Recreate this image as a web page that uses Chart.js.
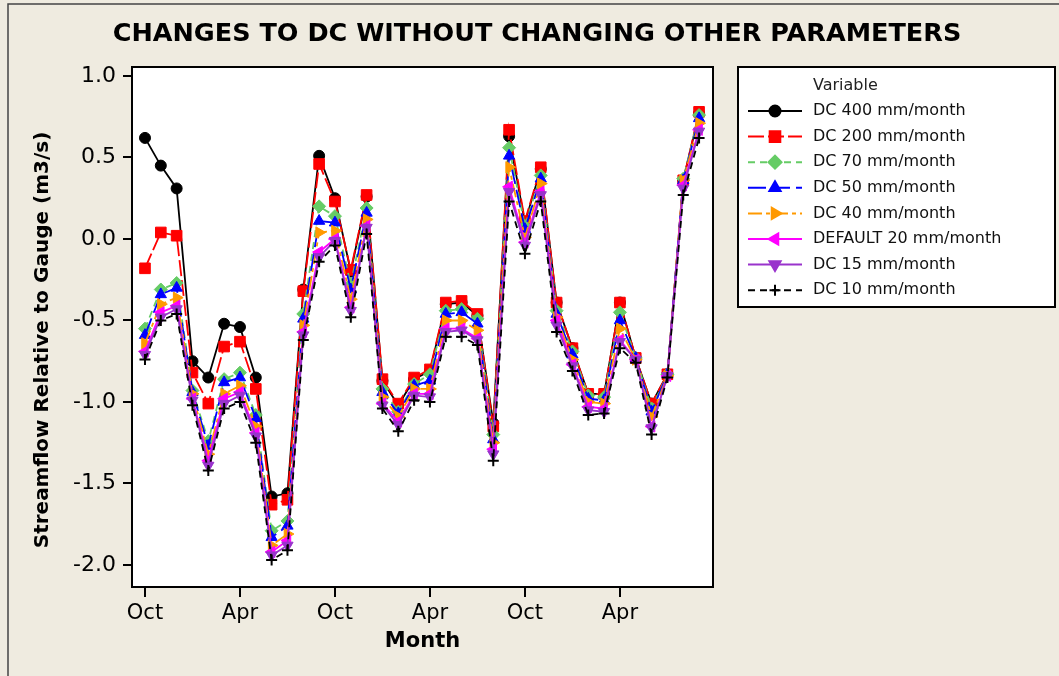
<!DOCTYPE html>
<html>
<head>
<meta charset="utf-8">
<script src="https://cdn.jsdelivr.net/npm/chart.js@4.4.1/dist/chart.umd.min.js"></script>
<style>
html, body { margin: 0; padding: 0; background: #efebe0; }
canvas { display: block; }
</style>
</head>
<body>
<canvas id="myChart" width="1059" height="676"></canvas>
<script>
// months, Oct to Sep, three water years
const months = ['Oct','Nov','Dec','Jan','Feb','Mar','Apr','May','Jun','Jul','Aug','Sep',
                'Oct','Nov','Dec','Jan','Feb','Mar','Apr','May','Jun','Jul','Aug','Sep',
                'Oct','Nov','Dec','Jan','Feb','Mar','Apr','May','Jun','Jul','Aug','Sep']
const xTicks = [0, 6, 12, 18, 24, 30]
const yTicks = [-2.0, -1.5, -1.0, -0.5, 0.0, 0.5, 1.0]

const names = ['DC 400 mm/month','DC 200 mm/month','DC 70 mm/month','DC 50 mm/month',
               'DC 40 mm/month','DEFAULT 20 mm/month','DC 15 mm/month','DC 10 mm/month']

const dc400 = [0.62,0.45,0.31,-0.75,-0.85,-0.52,-0.54,-0.85,-1.58,-1.56,-0.31,0.51,
               0.25,-0.20,0.26,-0.87,-1.02,-0.86,-0.81,-0.40,-0.39,-0.47,-1.13,0.63,
               0.10,0.43,-0.39,-0.67,-0.95,-0.95,-0.39,-0.73,-1.01,-0.83,0.36,0.77]
const dc200 = [-0.18,0.04,0.02,-0.82,-1.01,-0.66,-0.63,-0.92,-1.63,-1.60,-0.32,0.46,
               0.23,-0.19,0.27,-0.86,-1.01,-0.85,-0.80,-0.39,-0.38,-0.46,-1.15,0.67,
               0.11,0.44,-0.39,-0.67,-0.95,-0.95,-0.39,-0.73,-1.01,-0.83,0.36,0.78]
const dc70 = [-0.55,-0.31,-0.27,-0.93,-1.24,-0.86,-0.82,-1.08,-1.79,-1.73,-0.46,0.20,
              0.14,-0.28,0.19,-0.92,-1.06,-0.89,-0.83,-0.44,-0.43,-0.49,-1.20,0.56,
              0.08,0.39,-0.44,-0.69,-0.96,-0.97,-0.45,-0.73,-1.04,-0.83,0.37,0.76]
const dc50 = [-0.59,-0.34,-0.30,-0.94,-1.27,-0.88,-0.85,-1.10,-1.83,-1.76,-0.49,0.11,
              0.10,-0.31,0.16,-0.94,-1.07,-0.90,-0.87,-0.46,-0.45,-0.52,-1.23,0.51,
              0.06,0.37,-0.46,-0.71,-0.98,-0.99,-0.50,-0.73,-1.06,-0.83,0.36,0.74]
const dc40 = [-0.64,-0.40,-0.36,-0.95,-1.32,-0.95,-0.90,-1.15,-1.88,-1.81,-0.53,0.04,
              0.05,-0.37,0.12,-0.97,-1.09,-0.92,-0.92,-0.50,-0.50,-0.56,-1.25,0.44,
              0.01,0.34,-0.48,-0.74,-1.00,-1.01,-0.55,-0.74,-1.09,-0.84,0.36,0.71]
const def20 = [-0.69,-0.45,-0.41,-0.98,-1.36,-0.98,-0.94,-1.19,-1.92,-1.85,-0.57,-0.08,
               0.00,-0.42,0.08,-1.01,-1.12,-0.95,-0.95,-0.55,-0.55,-0.61,-1.29,0.32,
               -0.02,0.29,-0.50,-0.77,-1.03,-1.04,-0.62,-0.74,-1.15,-0.84,0.33,0.67]
const dc15 = [-0.71,-0.48,-0.43,-0.99,-1.39,-1.01,-0.96,-1.21,-1.94,-1.88,-0.59,-0.11,
              -0.01,-0.44,0.07,-1.02,-1.14,-0.96,-0.97,-0.57,-0.56,-0.62,-1.32,0.29,
              -0.04,0.27,-0.53,-0.78,-1.05,-1.06,-0.63,-0.74,-1.16,-0.84,0.31,0.66]
const dc10 = [-0.74,-0.50,-0.46,-1.02,-1.42,-1.04,-1.00,-1.25,-1.97,-1.91,-0.62,-0.14,
              -0.04,-0.48,0.03,-1.04,-1.18,-0.99,-1.00,-0.60,-0.60,-0.65,-1.36,0.23,
              -0.09,0.23,-0.57,-0.81,-1.08,-1.07,-0.67,-0.76,-1.20,-0.85,0.27,0.62]

const series = [dc400, dc200, dc70, dc50, dc40, def20, dc15, dc10]
const colors = ['#000000','#ff0000','#66cc66','#0000ff','#ff9900','#ff00ff','#9933cc','#000000']
const dashes = [[], [16,4], [7,5], [18,6], [14,4,4,4], [], [], [7,5]]
const styles = ['circle','rect','rectRot','triangle','triangle','triangle','triangle','cross']
const rotations = [0, 0, 0, 0, 90, 270, 180, 0]
const radii = [5.5, 7.5, 6.5, 6.5, 6.5, 6.5, 6.5, 5.5]

const font = 'DejaVu Sans'

const datasets = series.map(function(vals, i){
    return {
        label: names[i],
        data: vals.map(function(v, k){ return {x: k, y: v} }),
        borderColor: colors[i],
        backgroundColor: colors[i],
        borderWidth: 1.8,
        borderDash: dashes[i],
        pointStyle: styles[i],
        pointRotation: rotations[i],
        pointRadius: radii[i],
        pointBorderWidth: i == 7 ? 2 : 1,
        pointBorderColor: colors[i],
        pointBackgroundColor: colors[i],
        order: 7 - i,
        tension: 0
    }
})

const framePlugin = {
    id: 'frame',
    beforeDraw(chart){
        const c = chart.ctx
        const a = chart.chartArea
        c.save()
        c.fillStyle = '#efebe0'
        c.fillRect(0, 0, chart.width, chart.height)
        c.strokeStyle = '#444'
        c.lineWidth = 1.5
        c.beginPath()
        c.moveTo(8, chart.height); c.lineTo(8, 4); c.lineTo(chart.width, 4)
        c.stroke()
        c.fillStyle = '#fff'
        c.fillRect(a.left, a.top, a.right - a.left, a.bottom - a.top)
        // title
        c.fillStyle = '#000'
        c.font = 'bold 25.5px ' + font
        c.textAlign = 'center'
        c.textBaseline = 'middle'
        c.fillText('CHANGES TO DC WITHOUT CHANGING OTHER PARAMETERS', 537, 34)
        // y axis title, sits a little below the plot centre in the original
        c.save()
        c.translate(43, 340)
        c.rotate(-Math.PI / 2)
        c.font = 'bold 20px ' + font
        c.fillText('Streamflow Relative to Gauge (m3/s)', 0, 0)
        c.restore()
        c.restore()
    },
    afterDraw(chart){
        const c = chart.ctx
        const a = chart.chartArea
        c.save()
        c.strokeStyle = '#000'
        c.lineWidth = 2
        c.strokeRect(a.left, a.top, a.right - a.left, a.bottom - a.top)
        // legend box
        c.fillStyle = '#fff'
        c.fillRect(738, 67, 317, 240)
        c.strokeRect(738, 67, 317, 240)
        c.fillStyle = '#222'
        c.font = '16px ' + font
        c.textAlign = 'left'
        c.textBaseline = 'middle'
        c.fillText('Variable', 813, 86)
        chart.data.datasets.forEach(function(ds, i){
            const y = 111 + i * 25.6
            c.strokeStyle = ds.borderColor
            c.lineWidth = 2
            c.setLineDash(ds.borderDash)
            c.beginPath(); c.moveTo(748, y); c.lineTo(802, y); c.stroke()
            c.setLineDash([])
            c.fillStyle = ds.backgroundColor
            Chart.helpers.drawPoint(c, {pointStyle: ds.pointStyle, rotation: ds.pointRotation,
                radius: ds.pointRadius, borderWidth: ds.pointBorderWidth}, 775, y)
            c.fillStyle = '#111'
            c.fillText(ds.label, 813, y)
        })
        c.restore()
    }
}

const ctx = document.getElementById('myChart')

const config = {
    type: 'line',
    data: { datasets: datasets },
    options: {
        responsive: false,
        animation: false,
        devicePixelRatio: 1,
        layout: { padding: { left: 0, right: 346, top: 67, bottom: 0 } },
        plugins: { legend: { display: false }, tooltip: { enabled: false } },
        scales: {
            x: {
                type: 'linear',
                min: -0.82,
                max: 35.88,
                afterBuildTicks: function(s){ s.ticks = xTicks.map(function(v){ return {value: v} }) },
                afterFit: function(s){ s.height = 89 },
                grid: { drawOnChartArea: false, tickLength: 10, color: '#000', lineWidth: 2 },
                border: { color: '#000', width: 2 },
                ticks: {
                    callback: function(v){ return months[v] },
                    font: { family: font, size: 21 },
                    color: '#000',
                    padding: 4,
                    maxRotation: 0,
                    autoSkip: false
                },
                title: {
                    display: true, text: 'Month', color: '#000',
                    font: { family: font, size: 21, weight: 'bold' },
                    padding: { top: 0, bottom: 22 }
                }
            },
            y: {
                min: -2.135,
                max: 1.055,
                afterBuildTicks: function(s){ s.ticks = yTicks.map(function(v){ return {value: v} }) },
                afterFit: function(s){ s.width = 132 },
                grid: { drawOnChartArea: false, tickLength: 9, color: '#000', lineWidth: 2 },
                border: { color: '#000', width: 2 },
                ticks: {
                    callback: function(v){ return v.toFixed(1) },
                    font: { family: font, size: 22 },
                    color: '#000',
                    padding: 7
                },
                title: { display: false }
            }
        }
    },
    plugins: [framePlugin]
}

const myChart = new Chart(ctx, config)
</script>
</body>
</html>
